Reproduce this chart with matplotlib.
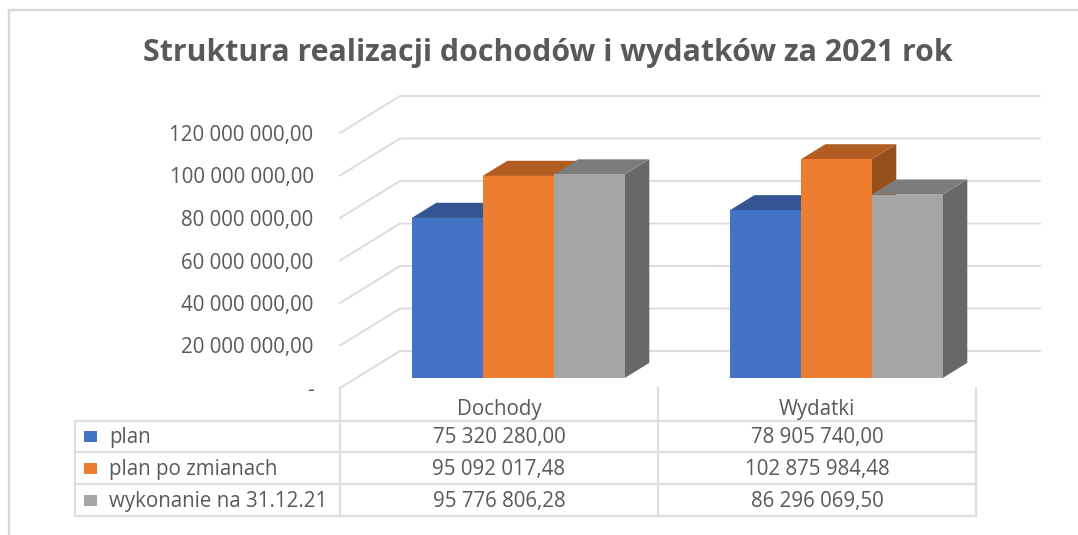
import numpy as np
import matplotlib
matplotlib.use("Agg")
import matplotlib.pyplot as plt

W = 1078
H = 535

title = "Struktura realizacji dochodów i wydatków za 2021 rok"
categories = ["Dochody", "Wydatki"]
series_names = ["plan", "plan po zmianach", "wykonanie na 31.12.21"]
plan = [75320280.00, 78905740.00]
plan_po_zmianach = [95092017.48, 102875984.48]
wykonanie = [95776806.28, 86296069.50]
yticks = [0, 20000000, 40000000, 60000000, 80000000, 100000000, 120000000]

front = ["#4472C4", "#ED7D31", "#A5A5A5"]
top = ["#335593", "#B25E22", "#7C7C7C"]
side = ["#2A4678", "#97501C", "#686868"]
text_col = "#595959"
line_col = "#DEDEDE"
FS = 14.8

plt.rcParams["font.family"] = ["Open Sans", "DejaVu Sans"]


def fmt(v):
    # polish format, space for thousands and comma for decimals
    return f"{v:,.2f}".replace(",", " ").replace(".", ",")


fig = plt.figure(figsize=(W / 100, H / 100), dpi=100)
# axes box is the front plane of the excel 3d chart
ax = fig.add_axes([340 / W, 1 - 388 / H, (976 - 340) / W, (388 - 133) / H])
ax.set_xlim(0, 2)
ax.set_ylim(0, 120000000)
for s in ax.spines.values():
    s.set_visible(False)
ax.set_xticks([])
ax.set_yticks(yticks)
ax.set_yticklabels(["-"] + [fmt(v) for v in yticks[1:]], fontsize=FS, color=text_col)
ax.tick_params(axis="y", length=0, pad=19)

# depth of the box: 60 px right, 37 px up
depth_x = 60 / 318
depth_y = 37 / 42.5 * 20000000


def proj(x, v, d):
    return x + d * depth_x, v + d * depth_y


# gridlines on the wall
for v in yticks:
    x0, y0 = proj(0, v, 0)
    x1, y1 = proj(0, v, 1)
    x2, y2 = proj(2.012, v, 1)
    ax.plot([x0, x1, x2], [y0, y1, y2], color=line_col, lw=1.5, clip_on=False, zorder=1)

# bars, painted left to right so the sides get covered by the next one
bar_w = 71 / 318
bar_shift = 3 / 318
d0 = 0.27
d1 = 0.68
all_values = [plan, plan_po_zmianach, wykonanie]
z = 2
for c in range(len(categories)):
    for s, vals in enumerate(all_values):
        left = c + 0.5 + bar_shift + (s - 1.5) * bar_w
        right = left + bar_w
        v = vals[c]
        corners_top = [proj(left, v, d0), proj(right, v, d0), proj(right, v, d1), proj(left, v, d1)]
        corners_side = [proj(right, 0, d0), proj(right, 0, d1), proj(right, v, d1), proj(right, v, d0)]
        corners_front = [proj(left, 0, d0), proj(right, 0, d0), proj(right, v, d0), proj(left, v, d0)]
        for pts, col in [(corners_side, side[s]), (corners_top, top[s]), (corners_front, front[s])]:
            ax.fill(*zip(*pts), color=col, lw=0, clip_on=False, zorder=z)
        z += 1

# data table under the chart, in pixel coordinates of the figure
overlay = fig.add_axes([0, 0, 1, 1], facecolor="none")
overlay.set_xlim(0, W)
overlay.set_ylim(H, 0)
overlay.axis("off")

col_x = [75, 340, 658, 976]
row_y = [421, 452, 484, 516]
for y in row_y:
    overlay.plot([col_x[0], col_x[-1]], [y, y], color=line_col, lw=1.6)
overlay.plot([col_x[0], col_x[0]], [row_y[0], row_y[-1]], color=line_col, lw=1.6)
for x in col_x[1:]:
    overlay.plot([x, x], [388, row_y[-1]], color=line_col, lw=1.6)

for c, name in enumerate(categories):
    xc = (col_x[c + 1] + col_x[c + 2]) / 2
    overlay.text(xc, 409.5, name, ha="center", va="center", fontsize=FS, color=text_col)
    for r, vals in enumerate(all_values):
        yc = (row_y[r] + row_y[r + 1]) / 2
        overlay.text(xc, yc + 1, fmt(vals[c]), ha="center", va="center", fontsize=FS, color=text_col)

for r, name in enumerate(series_names):
    yc = (row_y[r] + row_y[r + 1]) / 2
    overlay.fill([84, 97, 97, 84], [yc - 5.5, yc - 5.5, yc + 5.5, yc + 5.5], color=front[r], lw=0)
    overlay.text(109, yc + 1, name, ha="left", va="center", fontsize=FS, color=text_col)

overlay.text(547.5, 53, title, ha="center", va="center", fontsize=21.8, fontweight="bold", color=text_col)

# border of the pasted picture
overlay.plot([9, 9], [10, H], color="#D9D9D9", lw=1.7)
overlay.plot([9, W], [10, 10], color="#D9D9D9", lw=1.7)

fig.savefig("out.png", dpi=100)
